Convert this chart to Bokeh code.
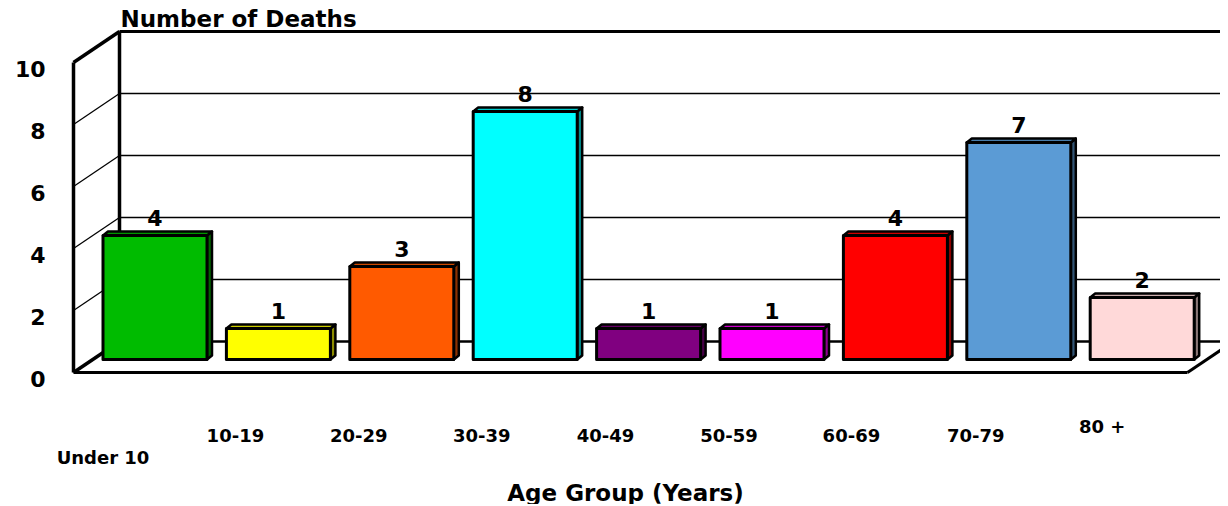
from bokeh.plotting import figure
from bokeh.models import Range1d, ColumnDataSource
from bokeh.core.properties import value
from bokeh.embed import file_html
from bokeh.resources import INLINE

# ---- data ----
categories = ["Under 10", "10-19", "20-29", "30-39", "40-49", "50-59", "60-69", "70-79", "80 +"]
deaths = [4, 1, 3, 8, 1, 1, 4, 7, 2]
bar_colors = ["#00bb00", "#ffff00", "#ff5a00", "#00ffff", "#800080",
              "#ff00ff", "#ff0000", "#5b9bd5", "#ffd9d9"]
y_ticks = [0, 2, 4, 6, 8, 10]
title_text = "Number of Deaths"
x_title_text = "Age Group (Years)"

# ---- layout (pixel-derived geometry) ----
PITCH = 123.4            # px per category
X0_PAGE = 154.5          # page x of first category centre
Y0_PAGE = 359.0          # page y of bar baseline
PX_Y = 31.0              # px per value unit
ORIGIN = 0               # page offset of the plot canvas

def ux(page_x):
    return (page_x - X0_PAGE) / PITCH

def uy(page_y):
    return (Y0_PAGE - page_y) / PX_Y

W, H = 1220, 504
p = figure(width=W, height=H, output_backend="svg", toolbar_location=None,
           x_range=Range1d(ux(ORIGIN), ux(ORIGIN + W)),
           y_range=Range1d(uy(ORIGIN + H), uy(ORIGIN)),
           min_border=0, outline_line_color=None)
p.xaxis.visible = False
p.yaxis.visible = False
p.grid.visible = False
p.background_fill_color = "white"

FL = ux(73)      # front-left x
BL = ux(119)     # back-left x
FR = ux(1187)    # front-right floor x
DX = BL - FL
DY = 1.0
FLOOR_F = uy(372)
FLOOR_B = FLOOR_F + DY
FAR = ux(1300)

# back wall gridlines
for v in y_ticks[1:-1]:
    p.line([BL, FAR], [v + FLOOR_B, v + FLOOR_B], line_color="black", line_width=1.3)
    p.line([FL, BL], [v + FLOOR_F, v + FLOOR_B], line_color="black", line_width=1.3)
# back wall top edge
top_v = y_ticks[-1]
p.line([BL, FAR], [top_v + FLOOR_B, top_v + FLOOR_B], line_color="black", line_width=3)
# left wall
p.line([FL, BL], [top_v + FLOOR_F, top_v + FLOOR_B], line_color="black", line_width=3.5)
p.line([FL, FL], [FLOOR_F, top_v + FLOOR_F], line_color="black", line_width=3.5)
p.line([BL, BL], [FLOOR_B, top_v + FLOOR_B], line_color="black", line_width=3.5)
p.line([FL, BL], [FLOOR_F, FLOOR_B], line_color="black", line_width=3.5)
# floor
p.line([BL, FAR], [FLOOR_B, FLOOR_B], line_color="black", line_width=2.5)
p.line([FL, FR], [FLOOR_F, FLOOR_F], line_color="black", line_width=3)
p.line([FR, FR + DX], [FLOOR_F, FLOOR_B], line_color="black", line_width=3)

# ---- bars ----
BW = 104 / PITCH
BDX = 5 / PITCH
BDY = 4 / PX_Y

def shade(hexc, f):
    r, g, b = (int(hexc[i:i + 2], 16) for i in (1, 3, 5))
    return "#%02x%02x%02x" % (int(r * f), int(g * f), int(b * f))

xc = list(range(len(categories)))
left = [x - BW / 2 for x in xc]
right = [x + BW / 2 for x in xc]

top_xs, top_ys, side_xs, side_ys = [], [], [], []
for l, r, v in zip(left, right, deaths):
    top_xs.append([l, r, r + BDX, l + BDX])
    top_ys.append([v, v, v + BDY, v + BDY])
    side_xs.append([r, r + BDX, r + BDX, r])
    side_ys.append([0, BDY, v + BDY, v])

p.patches(side_xs, side_ys, fill_color=[shade(c, 0.55) for c in bar_colors],
          line_color="black", line_width=2.5, line_join="round")
p.patches(top_xs, top_ys, fill_color=[shade(c, 0.8) for c in bar_colors],
          line_color="black", line_width=2.5, line_join="round")
src = ColumnDataSource(dict(left=left, right=right, top=deaths, bottom=[0] * len(deaths),
                            color=bar_colors, x=xc,
                            lab_y=[v + 18 / PX_Y for v in deaths],
                            lab=[str(v) for v in deaths]))
p.quad(left="left", right="right", top="top", bottom="bottom", source=src,
       fill_color="color", line_color="black", line_width=3, line_join="round")

FONT = value("DejaVu Sans")
p.text(x="x", y="lab_y", text="lab", source=src, text_font=FONT, text_font_style="bold",
       text_font_size="22px", text_align="center", text_baseline="middle", text_color="black")

# ---- y tick labels ----
p.text(x=[ux(45)] * len(y_ticks), y=[v + FLOOR_F - 6 / PX_Y for v in y_ticks],
       text=[str(v) for v in y_ticks], text_font=FONT, text_font_style="bold",
       text_font_size="22px", text_align="right", text_baseline="middle", text_color="black")

# ---- category labels (staggered as in original) ----
lab_dx_px = [-52, -43, -43, -43.5, -43, -43, -44, -43, -40]
lab_y_page = [457, 435, 435, 435, 435, 435, 435, 435, 426]
p.text(x=[x + d / PITCH for x, d in zip(xc, lab_dx_px)], y=[uy(yy) for yy in lab_y_page],
       text=categories, text_font=FONT, text_font_style="bold", text_font_size="18px",
       text_align="center", text_baseline="middle", text_color="black")

# ---- titles ----
p.text(x=[ux(120)], y=[uy(18)], text=[title_text], text_font=FONT, text_font_style="bold",
       text_font_size="23px", text_align="left", text_baseline="middle", text_color="black")
p.text(x=[ux(625)], y=[uy(492)], text=[x_title_text], text_font=FONT, text_font_style="bold",
       text_font_size="23px", text_align="center", text_baseline="middle", text_color="black")

open("out.html", "w").write(file_html(p, INLINE))
